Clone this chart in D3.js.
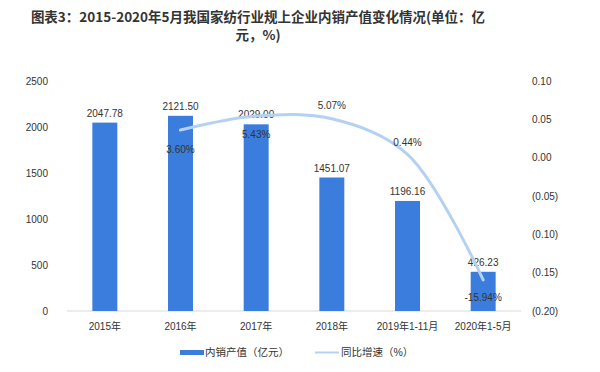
<!DOCTYPE html>
<html>
<head>
<meta charset="utf-8">
<script src="https://cdn.jsdelivr.net/npm/d3@7"></script>
<style>
  body { margin: 0; background: #fff; }
  svg text { font-family: "Liberation Sans", "Noto Sans CJK SC", sans-serif; fill: #333; }
</style>
</head>
<body>
<div id="viz"></div>
<script>
// Datos
let categorias = ['2015年', '2016年', '2017年', '2018年', '2019年1-11月', '2020年1-5月'];
let valores = [2047.78, 2121.50, 2029.00, 1451.07, 1196.16, 426.23];
let crecimiento = [null, 0.0360, 0.0543, 0.0507, 0.0044, -0.1594];
let ticksIzq = [0, 500, 1000, 1500, 2000, 2500];
let ticksDer = [-0.20, -0.15, -0.10, -0.05, 0.00, 0.05, 0.10];

let w = 600;
let h = 372;
let colorBarra = '#3b7ddd';
let colorLinea = '#b5d1f1';

let svg = d3.select('#viz')
    .append('svg')
        .attr('width', w)
        .attr('height', h);

// Título
let titulo = svg.append('text')
    .attr('text-anchor', 'middle')
    .style('font-size', '13.5px')
    .style('font-weight', 'bold')
    .style('font-family', '"Noto Sans CJK SC", sans-serif');
titulo.append('tspan').attr('x', 258).attr('y', 22)
    .text('图表3：2015-2020年5月我国家纺行业规上企业内销产值变化情况(单位：亿');
titulo.append('tspan').attr('x', 258).attr('y', 40)
    .text('元，%)');

// Escalas
let x = d3.scaleBand()
    .domain(categorias)
    .range([67, 521])
    .paddingInner(0.67)
    .paddingOuter(0.335);

let y = d3.scaleLinear()
    .domain([0, 2500])
    .range([311, 81]);

let y2 = d3.scaleLinear()
    .domain([-0.20, 0.10])
    .range([311, 81]);

// Eje izquierdo
svg.append('g')
    .selectAll('text')
    .data(ticksIzq)
    .enter().append('text')
        .attr('x', 48)
        .attr('y', d => y(d))
        .attr('dy', '0.35em')
        .attr('text-anchor', 'end')
        .style('font-size', '10px')
        .text(d => d);

// Eje derecho (formato contable)
let fmt = d3.format('.2f');
svg.append('g')
    .selectAll('text')
    .data(ticksDer)
    .enter().append('text')
        .attr('x', 532)
        .attr('y', d => y2(d))
        .attr('dy', '0.35em')
        .style('font-size', '10px')
        .text(d => d < -1e-9 ? '(' + fmt(-d) + ')' : fmt(Math.abs(d)));

// Línea base
svg.append('line')
    .attr('x1', 67).attr('x2', 521)
    .attr('y1', y(0)).attr('y2', y(0))
    .attr('stroke', '#d9d9d9')
    .attr('stroke-width', 1);

// Etiquetas eje X
svg.append('g')
    .selectAll('text')
    .data(categorias)
    .enter().append('text')
        .attr('x', d => x(d) + x.bandwidth() / 2)
        .attr('y', 330)
        .attr('text-anchor', 'middle')
        .style('font-size', '10px')
        .text(d => d);

// Barras
svg.selectAll('.barra')
    .data(valores)
    .enter().append('rect')
        .attr('class', 'barra')
        .attr('x', (d, i) => x(categorias[i]))
        .attr('width', x.bandwidth())
        .attr('y', d => y(d))
        .attr('height', d => y(0) - y(d))
        .attr('fill', colorBarra);

// Etiquetas de barras
svg.selectAll('.lbl-barra')
    .data(valores)
    .enter().append('text')
        .attr('class', 'lbl-barra')
        .attr('x', (d, i) => x(categorias[i]) + x.bandwidth() / 2)
        .attr('y', d => y(d) - 6)
        .attr('text-anchor', 'middle')
        .style('font-size', '10px')
        .text(d => d.toFixed(2));

// Línea de crecimiento
let puntos = crecimiento
    .map((v, i) => ({ cat: categorias[i], v: v }))
    .filter(p => p.v !== null);

let linea = d3.line()
    .x(p => x(p.cat) + x.bandwidth() / 2)
    .y(p => y2(p.v))
    .curve(d3.curveCatmullRom.alpha(0.5));

svg.append('path')
    .datum(puntos)
    .attr('d', linea)
    .attr('fill', 'none')
    .attr('stroke', colorLinea)
    .attr('stroke-width', 3)
    .attr('stroke-linecap', 'round');

// Etiquetas de crecimiento (arriba o abajo del punto)
let desplaz = { '2016年': 19, '2017年': 18, '2018年': -13, '2019年1-11月': -12, '2020年1-5月': 18 };
svg.selectAll('.lbl-linea')
    .data(puntos)
    .enter().append('text')
        .attr('class', 'lbl-linea')
        .attr('x', p => x(p.cat) + x.bandwidth() / 2)
        .attr('y', p => y2(p.v) + desplaz[p.cat])
        .attr('dy', '0.35em')
        .attr('text-anchor', 'middle')
        .style('font-size', '10px')
        .text(p => (p.v * 100).toFixed(2) + '%');

// Leyenda
let leyenda = svg.append('g');
leyenda.append('rect')
    .attr('x', 180).attr('y', 350)
    .attr('width', 24).attr('height', 5)
    .attr('fill', colorBarra);
leyenda.append('text')
    .attr('x', 205).attr('y', 352.5)
    .attr('dy', '0.35em')
    .style('font-size', '10.5px')
    .text('内销产值（亿元）');
leyenda.append('line')
    .attr('x1', 315).attr('x2', 339)
    .attr('y1', 352.5).attr('y2', 352.5)
    .attr('stroke', colorLinea)
    .attr('stroke-width', 2);
leyenda.append('text')
    .attr('x', 341).attr('y', 352.5)
    .attr('dy', '0.35em')
    .style('font-size', '10.5px')
    .text('同比增速（%）');
</script>
</body>
</html>
